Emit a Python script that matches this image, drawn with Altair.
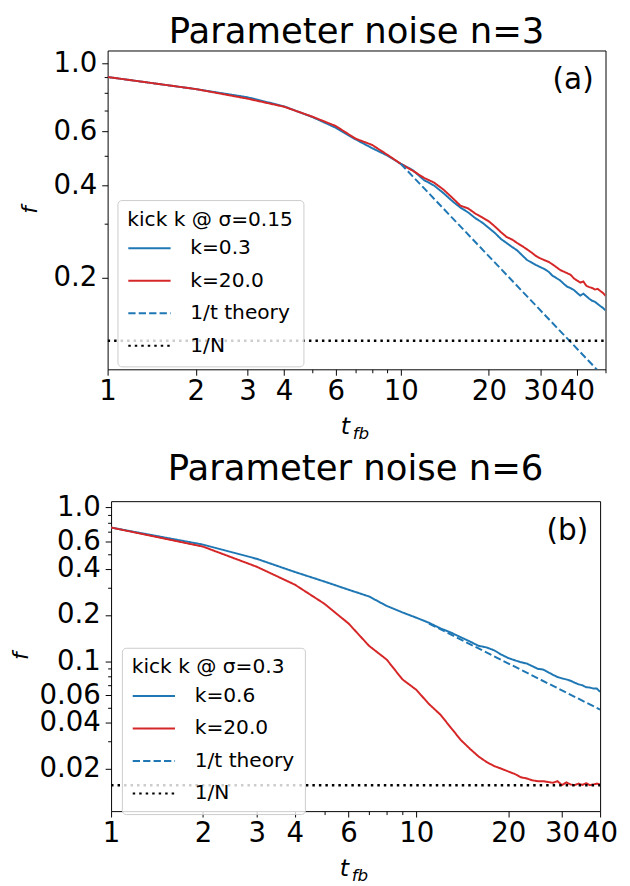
import altair as alt
import pandas as pd

# ---------------- panel (a): n = 3 ----------------
t_a = list(range(1, 51))
a_k03 = [0.902, 0.824, 0.775, 0.724, 0.668, 0.617, 0.566, 0.529, 0.501, 0.471,
         0.449, 0.417, 0.400, 0.378, 0.356, 0.339, 0.327, 0.313, 0.303, 0.291,
         0.280, 0.268, 0.260, 0.2525, 0.246, 0.237, 0.229, 0.2245, 0.2205, 0.217,
         0.2138, 0.2096, 0.2034, 0.200, 0.1966, 0.1918, 0.1875, 0.1856, 0.1830, 0.179,
         0.1755, 0.178, 0.1747, 0.1713, 0.1688, 0.1675, 0.1648, 0.1622, 0.160, 0.157]
a_k20 = [0.902, 0.824, 0.767, 0.722, 0.670, 0.625, 0.569, 0.542, 0.504, 0.471,
         0.447, 0.424, 0.409, 0.388, 0.365, 0.344, 0.337, 0.324, 0.315, 0.306,
         0.294, 0.282, 0.272, 0.267, 0.260, 0.254, 0.248, 0.242, 0.2357, 0.2317,
         0.2286, 0.2258, 0.2215, 0.217, 0.2126, 0.210, 0.2075, 0.205, 0.1995, 0.1964,
         0.1934, 0.1950, 0.1888, 0.187, 0.1857, 0.1836, 0.1845, 0.1816, 0.179, 0.1752]
a_theory_t = [10, 50]
a_theory_f = [0.471, 0.0942]
a_invN = 0.125
a_names = ["k=0.3", "k=20.0", "1/t theory", "1/N"]

# ---------------- panel (b): n = 6 ----------------
t_b = list(range(1, 41))
b_k06 = [0.741, 0.574, 0.464, 0.381, 0.330, 0.292, 0.264, 0.229, 0.208, 0.192,
         0.178, 0.1636, 0.1535, 0.1432, 0.1343, 0.1260, 0.1230, 0.1177, 0.1104, 0.105,
         0.1015, 0.0986, 0.0967, 0.0929, 0.0893, 0.0884, 0.0850, 0.0817, 0.0790, 0.0774,
         0.0762, 0.0747, 0.0726, 0.0708, 0.0698, 0.0678, 0.0675, 0.0665, 0.0665, 0.0633]
b_k20 = [0.741, 0.557, 0.412, 0.315, 0.2366, 0.176, 0.126, 0.1025, 0.0763, 0.0652,
         0.0527, 0.0449, 0.0368, 0.0307, 0.0269, 0.0240, 0.0221, 0.0208, 0.0200, 0.0192,
         0.0185, 0.0176, 0.0173, 0.0168, 0.0166, 0.0166, 0.0164, 0.0162, 0.0166, 0.01565,
         0.0163, 0.0158, 0.01565, 0.0160, 0.0157, 0.0161, 0.01565, 0.0158, 0.0160, 0.0158]
b_theory_t = [11, 40]
b_theory_f = [0.176, 0.0485]
b_invN = 0.015625
b_names = ["k=0.6", "k=20.0", "1/t theory", "1/N"]

x_major = [1, 2, 3, 4, 6, 10, 20, 30, 40]
a_x_minor = [5, 7, 8, 9, 50]
b_x_minor = [5, 7, 8, 9]
a_y_major = [0.2, 0.4, 0.6, 1.0]
a_y_minor = [0.3, 0.5, 0.7, 0.8, 0.9]
b_y_major = [0.02, 0.04, 0.06, 0.1, 0.2, 0.4, 0.6, 1.0]
b_y_minor = [0.03, 0.05, 0.07, 0.08, 0.09, 0.3, 0.5, 0.7, 0.8, 0.9]

BLUE = "#1f77b4"
RED = "#d62728"
FONT = "DejaVu Sans"


def panel(title, title_gap, tag, leg_title, names, t, s1, s2, th_t, th_f, invN,
          xmax, ydom, y_major, y_minor, x_minor, W, H, lx, ly, f_x, left_sp, right_sp):
    df1 = pd.DataFrame({"t": t, "f": s1, "series": names[0]})
    df2 = pd.DataFrame({"t": t, "f": s2, "series": names[1]})
    df3 = pd.DataFrame({"t": th_t, "f": th_f, "series": names[2]})
    df4 = pd.DataFrame({"t": [1, xmax], "f": [invN, invN], "series": names[3]})

    xs = alt.Scale(type="log", domain=[1, xmax], nice=False)
    ys = alt.Scale(type="log", domain=ydom, nice=False)

    leg = alt.Legend(
        title=leg_title, orient="none", legendX=lx, legendY=ly, direction="vertical",
        fillColor="rgba(255,255,255,0.8)", strokeColor="#cccccc", cornerRadius=4,
        padding=10, titleFont=FONT, titleFontSize=20.5, titleFontWeight="normal",
        titleColor="black", titlePadding=-4, titleLimit=400, labelFont=FONT,
        labelFontSize=20.5, labelColor="black", labelLimit=400, labelOffset=19,
        symbolType="stroke", symbolSize=1849, symbolStrokeWidth=2, rowPadding=-12,
        symbolOpacity=1, offset=0)
    color = alt.Color("series:N", scale=alt.Scale(domain=names, range=[BLUE, RED, BLUE, "black"]),
                      legend=leg)
    dash = alt.StrokeDash("series:N",
                          scale=alt.Scale(domain=names, range=[[1, 0], [1, 0], [7.4, 3.2], [2.5, 4.1]]),
                          legend=leg)

    xax = alt.Axis(values=x_major, orient="bottom", title=None, tickSize=6, labelPadding=3,
                   labelExpr="'' + datum.value")
    yax = alt.Axis(values=y_major, orient="left", title=None, tickSize=6, labelPadding=5,
                   labelExpr="datum.value == 1 ? '1.0' : '' + datum.value")
    xax_m = alt.Axis(values=x_minor, orient="bottom", title=None, labels=False, tickSize=3.5)
    yax_m = alt.Axis(values=y_minor, orient="left", title=None, labels=False, tickSize=3.5)

    def line(df, sw, xa=None, ya=None):
        return alt.Chart(df).mark_line(strokeWidth=sw, clip=True).encode(
            x=alt.X("t:Q", scale=xs, axis=xa),
            y=alt.Y("f:Q", scale=ys, axis=ya),
            color=color, strokeDash=dash)

    l1 = line(df1, 2, xax, yax)
    l2 = line(df2, 2)
    l3 = line(df3, 2)
    l4 = line(df4, 2.5)
    minor = alt.Chart(df4).mark_point(opacity=0).encode(
        x=alt.X("t:Q", scale=xs, axis=xax_m), y=alt.Y("f:Q", scale=ys, axis=yax_m))

    one = pd.DataFrame({"v": [0]})
    title_t = alt.Chart(one).mark_text(text=title, font=FONT, fontSize=36, color="black",
                                       align="center", baseline="alphabetic").encode(
        x=alt.value(W / 2), y=alt.value(-title_gap))
    tag_t = alt.Chart(one).mark_text(text=tag, font=FONT, fontSize=30, color="black",
                                     align="right", baseline="middle").encode(
        x=alt.value(W - 12), y=alt.value(30))
    f_t = alt.Chart(one).mark_text(text="f", font=FONT, fontStyle="italic", fontSize=22,
                                   color="black", align="center", baseline="middle",
                                   angle=270).encode(
        x=alt.value(f_x), y=alt.value(H / 2))
    t_t = alt.Chart(one).mark_text(text="t", font=FONT, fontStyle="italic", fontSize=24,
                                   color="black", align="left", baseline="alphabetic").encode(
        x=alt.value(W / 2 - 16), y=alt.value(H + 66))
    fb_t = alt.Chart(one).mark_text(text="fb", font=FONT, fontStyle="italic", fontSize=17,
                                    color="black", align="left", baseline="alphabetic").encode(
        x=alt.value(W / 2 - 4), y=alt.value(H + 71))
    sp_l = alt.Chart(one).mark_rule(opacity=0).encode(
        x=alt.value(left_sp), y=alt.value(0), y2=alt.value(1))
    sp_r = alt.Chart(one).mark_rule(opacity=0).encode(
        x=alt.value(W + right_sp), y=alt.value(0), y2=alt.value(1))

    return alt.layer(l1, l2, l3, l4, minor, title_t, tag_t, f_t, t_t, fb_t, sp_l, sp_r
                     ).resolve_axis(x="independent", y="independent").properties(width=W, height=H)


top = panel("Parameter noise n=3", 8, "(a)", "kick k @ σ=0.15", a_names, t_a, a_k03, a_k20,
            a_theory_t, a_theory_f, a_invN, 50, [0.101, 1.1], a_y_major, a_y_minor, a_x_minor,
            506, 324, 10, 152, -79, -96, 16)
bottom = panel("Parameter noise n=6", 22, "(b)", "kick k @ σ=0.3", b_names, t_b, b_k06, b_k20,
               b_theory_t, b_theory_f, b_invN, 40, [0.0106, 1.1], b_y_major, b_y_minor, b_x_minor,
               497, 315, 11, 149, -91, -104, 18)

chart = alt.vconcat(top, bottom, spacing=7, center=True).resolve_scale(
    color="independent", strokeDash="independent"
).properties(
    padding={"left": 0, "top": -2, "right": 0, "bottom": 0}
).configure_view(
    stroke="black", strokeWidth=1
).configure_axis(
    domain=False, grid=False, labelFont=FONT, labelFontSize=28, labelColor="black",
    tickColor="black", tickWidth=1, labelOverlap=False, labelFlush=False, labelBound=False,
    titleFont=FONT, titleColor="black", titleFontWeight="normal"
)

chart.save("out.html", embed_options={"renderer": "svg", "actions": False})
